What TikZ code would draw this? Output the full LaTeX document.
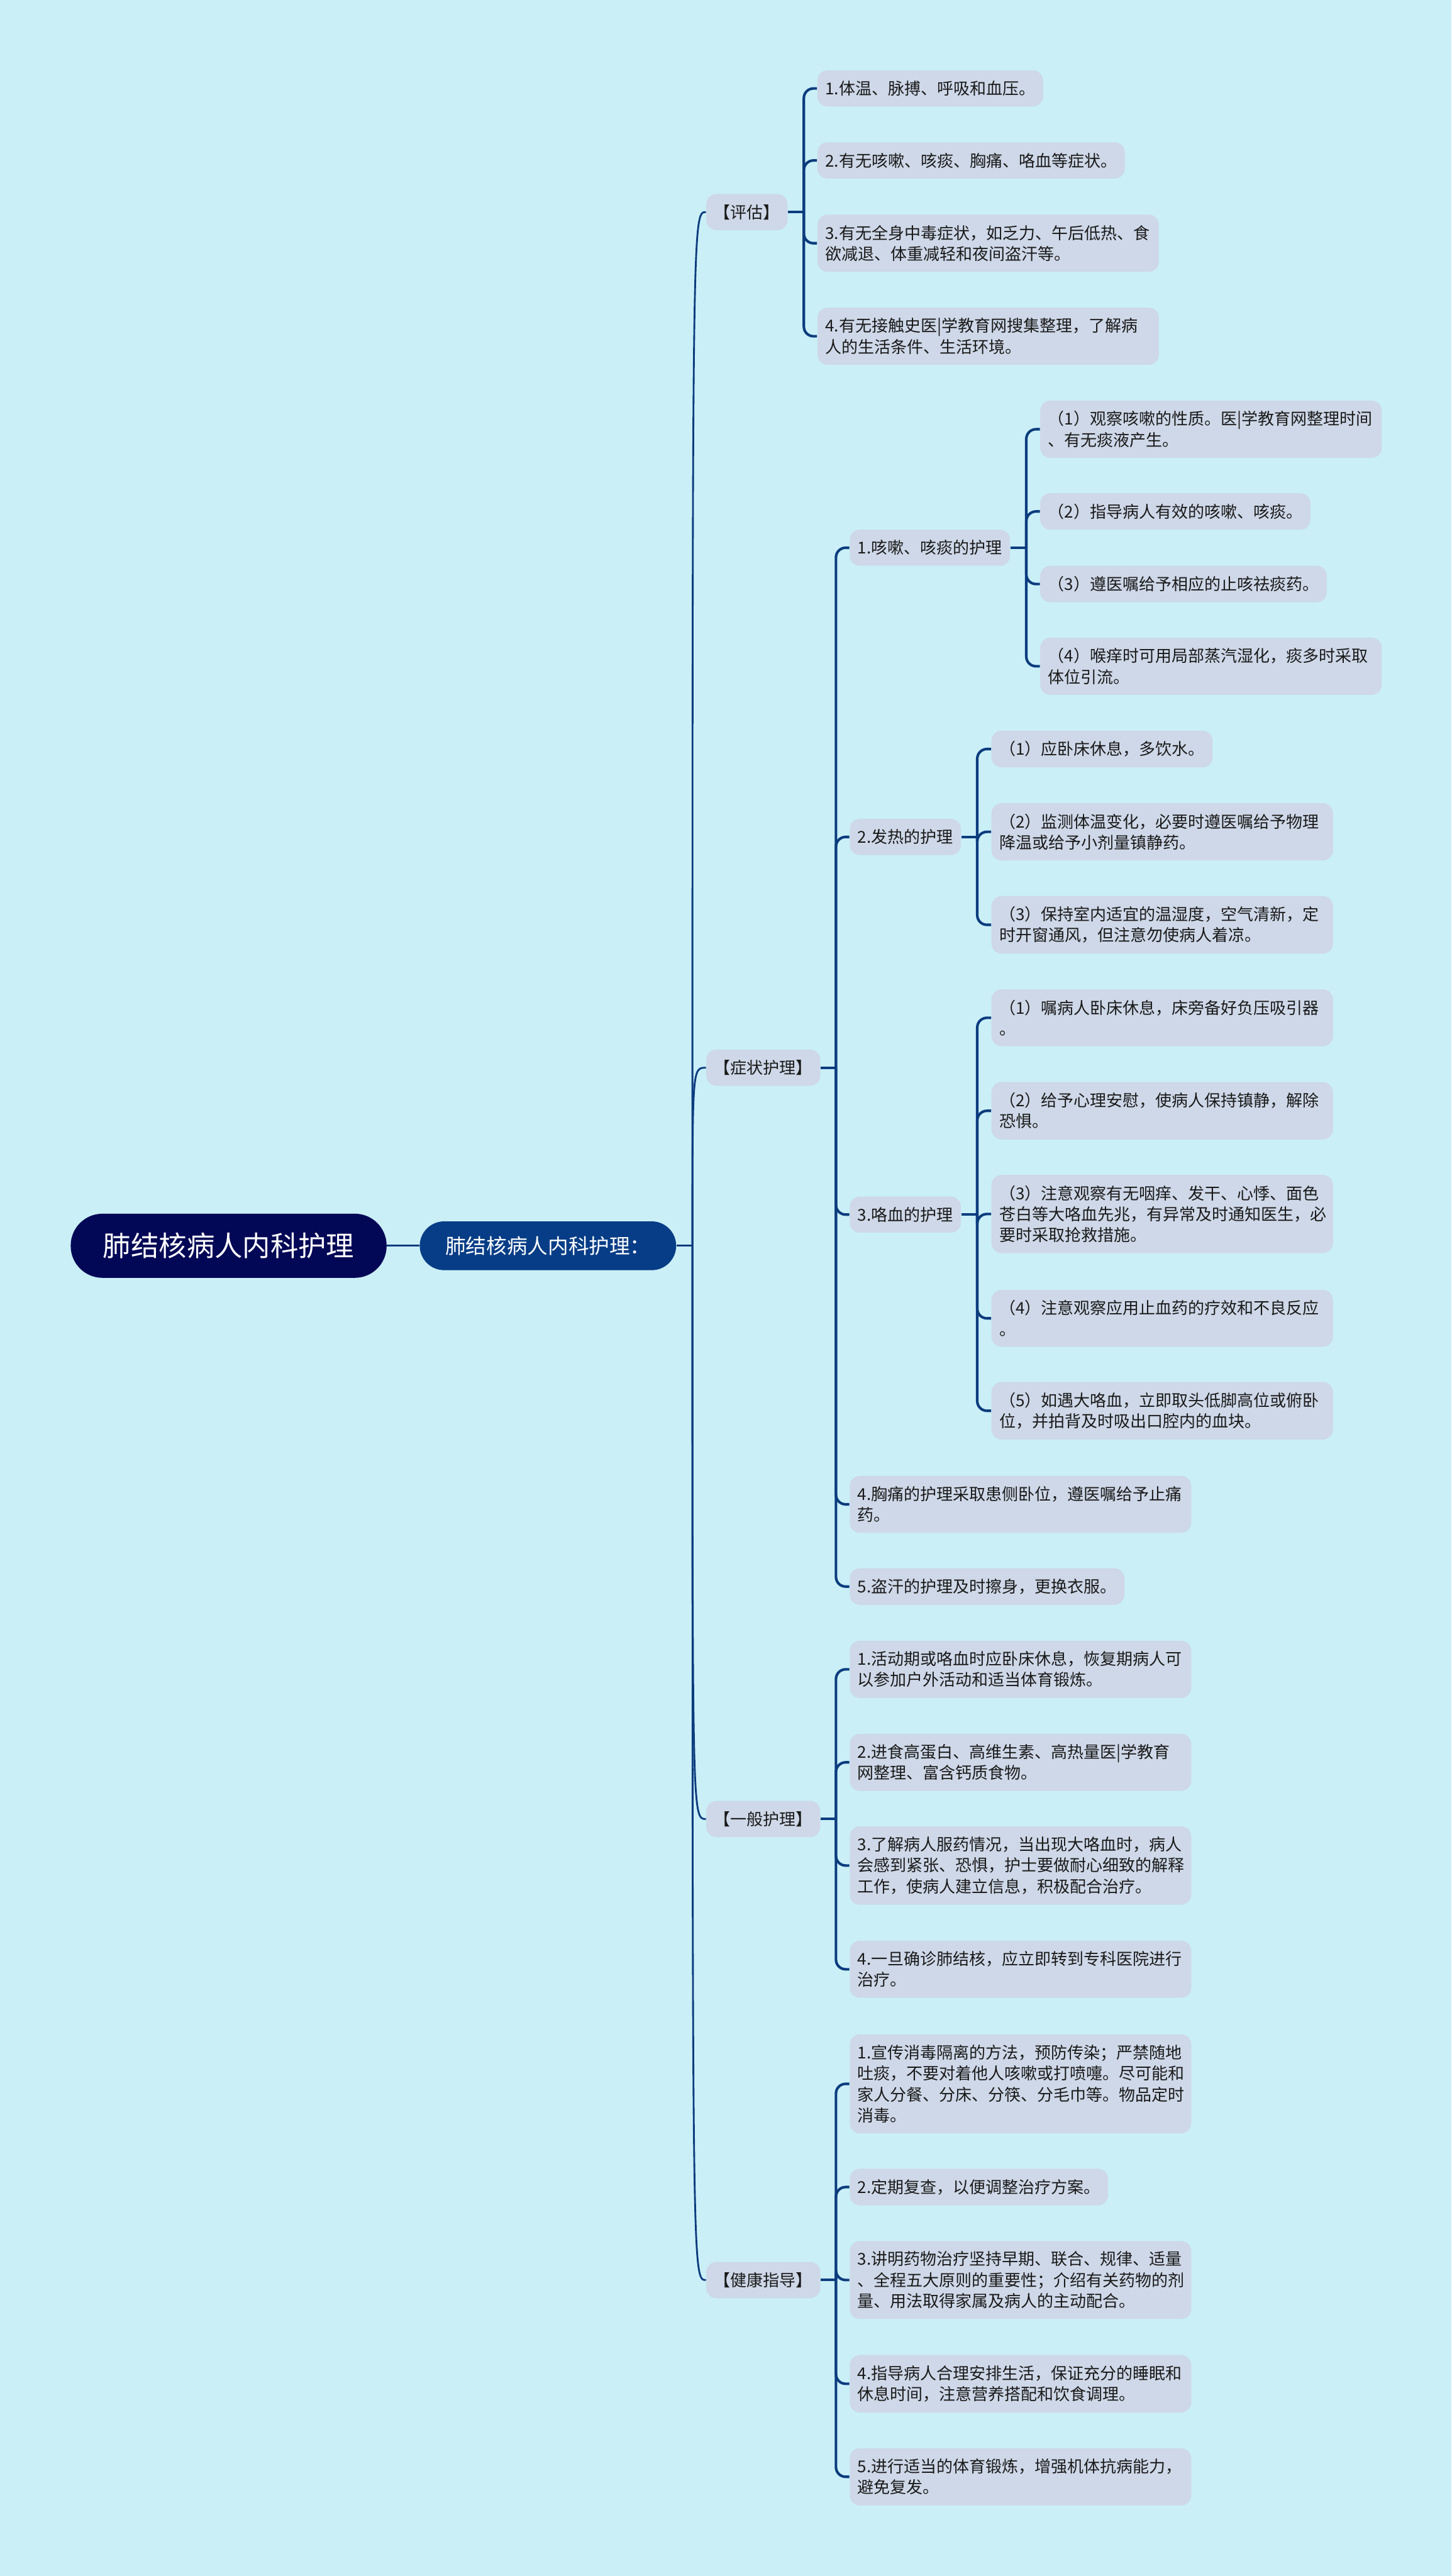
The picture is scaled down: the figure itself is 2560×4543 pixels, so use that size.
\documentclass[tikz,border=0pt]{standalone}
\usepackage{fontspec}
\setmainfont{Noto Sans CJK SC}
\usetikzlibrary{positioning}

\definecolor{bgc}{HTML}{CAEFF7}
\definecolor{leafc}{HTML}{CED8E8}
\definecolor{linec}{HTML}{0C3C7E}
\definecolor{rootc}{HTML}{020856}
\definecolor{secc}{HTML}{073D86}
\definecolor{txtc}{HTML}{1A1A1A}

\tikzset{
  box/.style={fill=leafc, text=txtc, rounded corners=0.18cm, inner xsep=0.14cm,
    inner ysep=0.185cm, font=\fontsize{8.2}{10.5}\selectfont, anchor=west},
  wide/.style={box, text width=5.74cm, align=left},
  rootbox/.style={fill=rootc, text=white, rounded corners=0.56cm, minimum height=1.13cm,
    inner xsep=0.57cm, font=\fontsize{14}{16}\selectfont, anchor=west},
  secbox/.style={fill=secc, text=white, rounded corners=0.43cm, minimum height=0.86cm,
    inner xsep=0.45cm, font=\fontsize{10.3}{12}\selectfont},
  link/.style={draw=linec, line width=1.3pt, rounded corners=0.17cm},
  trunk/.style={draw=linec, line width=0.9pt},
}

\begin{document}
\begin{tikzpicture}[x=0.01cm, y=-0.01cm]
\fill[bgc] (0,0) rectangle (2560,4543);

% centre
\node[rootbox] (root) at (124,2197) {肺结核病人内科护理};
\node[secbox, right=0.57cm of root] (sec) {肺结核病人内科护理：};
\draw[trunk] (root) -- (sec);

% main branches
\node[box] (pg) at (1245,374) {【评估】};
\node[box] (zz) at (1245,1883) {【症状护理】};
\node[box] (yb) at (1245,3208) {【一般护理】};
\node[box] (jk) at (1245,4021) {【健康指导】};

% 评估
\node[box] (pg1) at (1441,156) {1.体温、脉搏、呼吸和血压。};
\node[box] (pg2) at (1441,283) {2.有无咳嗽、咳痰、胸痛、咯血等症状。};
\node[wide] (pg3) at (1441,429) {3.有无全身中毒症状，如乏力、午后低热、食\\欲减退、体重减轻和夜间盗汗等。};
\node[wide] (pg4) at (1441,593) {4.有无接触史医|学教育网搜集整理，了解病\\人的生活条件、生活环境。};

% 症状护理
\node[box] (ks) at (1498,966) {1.咳嗽、咳痰的护理};
\node[wide] (ks1) at (1834,757) {（1）观察咳嗽的性质。医|学教育网整理时间\\、有无痰液产生。};
\node[box] (ks2) at (1834,902) {（2）指导病人有效的咳嗽、咳痰。};
\node[box] (ks3) at (1834,1030) {（3）遵医嘱给予相应的止咳祛痰药。};
\node[wide] (ks4) at (1834,1175) {（4）喉痒时可用局部蒸汽湿化，痰多时采取\\体位引流。};

\node[box] (fr) at (1498,1476) {2.发热的护理};
\node[box] (fr1) at (1748,1321) {（1）应卧床休息，多饮水。};
\node[wide] (fr2) at (1748,1467) {（2）监测体温变化，必要时遵医嘱给予物理\\降温或给予小剂量镇静药。};
\node[wide] (fr3) at (1748,1631) {（3）保持室内适宜的温湿度，空气清新，定\\时开窗通风，但注意勿使病人着凉。};

\node[box] (kx) at (1498,2142) {3.咯血的护理};
\node[wide] (kx1) at (1748,1795) {（1）嘱病人卧床休息，床旁备好负压吸引器\\。};
\node[wide] (kx2) at (1748,1959) {（2）给予心理安慰，使病人保持镇静，解除\\恐惧。};
\node[wide] (kx3) at (1748,2141) {（3）注意观察有无咽痒、发干、心悸、面色\\苍白等大咯血先兆，有异常及时通知医生，必\\要时采取抢救措施。};
\node[wide] (kx4) at (1748,2325) {（4）注意观察应用止血药的疗效和不良反应\\。};
\node[wide] (kx5) at (1748,2488) {（5）如遇大咯血，立即取头低脚高位或俯卧\\位，并拍背及时吸出口腔内的血块。};

\node[wide] (xt) at (1498,2653) {4.胸痛的护理采取患侧卧位，遵医嘱给予止痛\\药。};
\node[box] (dh) at (1498,2798) {5.盗汗的护理及时擦身，更换衣服。};

% 一般护理
\node[wide] (yb1) at (1498,2944) {1.活动期或咯血时应卧床休息，恢复期病人可\\以参加户外活动和适当体育锻炼。};
\node[wide] (yb2) at (1498,3108) {2.进食高蛋白、高维生素、高热量医|学教育\\网整理、富含钙质食物。};
\node[wide] (yb3) at (1498,3290) {3.了解病人服药情况，当出现大咯血时，病人\\会感到紧张、恐惧，护士要做耐心细致的解释\\工作，使病人建立信息，积极配合治疗。};
\node[wide] (yb4) at (1498,3473) {4.一旦确诊肺结核，应立即转到专科医院进行\\治疗。};

% 健康指导
\node[wide] (jk1) at (1498,3675) {1.宣传消毒隔离的方法，预防传染；严禁随地\\吐痰，不要对着他人咳嗽或打喷嚏。尽可能和\\家人分餐、分床、分筷、分毛巾等。物品定时\\消毒。};
\node[box] (jk2) at (1498,3857) {2.定期复查，以便调整治疗方案。};
\node[wide] (jk3) at (1498,4021) {3.讲明药物治疗坚持早期、联合、规律、适量\\、全程五大原则的重要性；介绍有关药物的剂\\量、用法取得家属及病人的主动配合。};
\node[wide] (jk4) at (1498,4204) {4.指导病人合理安排生活，保证充分的睡眠和\\休息时间，注意营养搭配和饮食调理。};
\node[wide] (jk5) at (1498,4368) {5.进行适当的体育锻炼，增强机体抗病能力，\\避免复发。};

% connectors
\draw[trunk] (sec.east) -- ++(28,0) coordinate (mt);
\foreach \c in {pg,zz,yb,jk}
  \draw[trunk] (mt) .. controls (mt |- \c.west) .. (\c.west);

\draw[link] (pg.east) -- ++(28,0) coordinate (pg-t);
\foreach \c in {pg1,pg2,pg3,pg4}
  \draw[link] (pg-t) |- (\c.west);

\draw[link] (zz.east) -- ++(27,0) coordinate (zz-t);
\foreach \c in {ks,fr,kx,xt,dh}
  \draw[link] (zz-t) |- (\c.west);

\draw[link] (ks.east) -- ++(28,0) coordinate (ks-t);
\foreach \c in {ks1,ks2,ks3,ks4}
  \draw[link] (ks-t) |- (\c.west);

\draw[link] (fr.east) -- ++(28,0) coordinate (fr-t);
\foreach \c in {fr1,fr2,fr3}
  \draw[link] (fr-t) |- (\c.west);

\draw[link] (kx.east) -- ++(28,0) coordinate (kx-t);
\foreach \c in {kx1,kx2,kx3,kx4,kx5}
  \draw[link] (kx-t) |- (\c.west);

\draw[link] (yb.east) -- ++(27,0) coordinate (yb-t);
\foreach \c in {yb1,yb2,yb3,yb4}
  \draw[link] (yb-t) |- (\c.west);

\draw[link] (jk.east) -- ++(27,0) coordinate (jk-t);
\foreach \c in {jk1,jk2,jk3,jk4,jk5}
  \draw[link] (jk-t) |- (\c.west);
\end{tikzpicture}
\end{document}
